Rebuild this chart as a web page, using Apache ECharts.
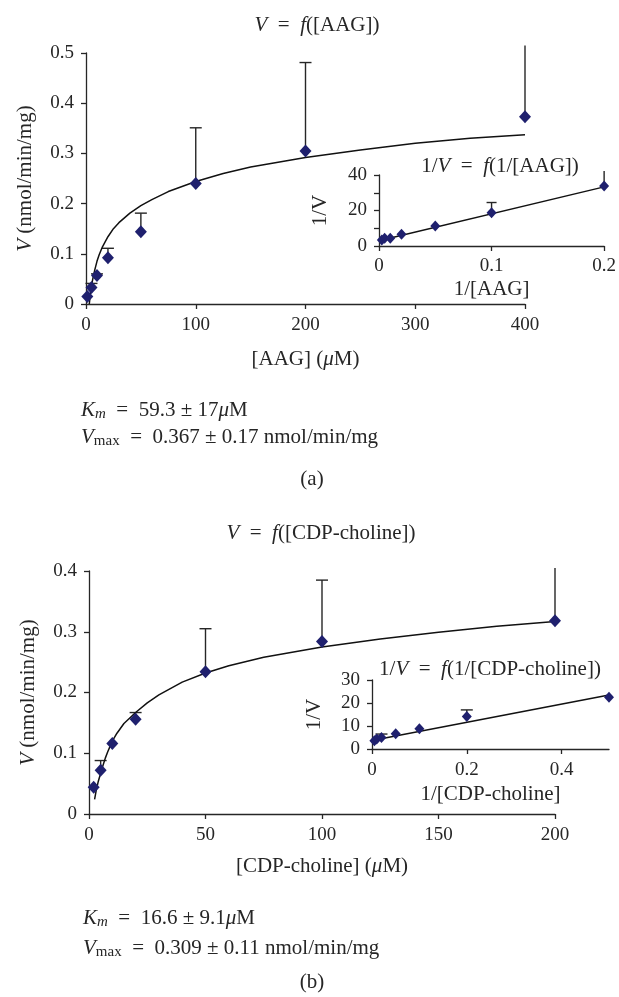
<!DOCTYPE html>
<html>
<head>
<meta charset="utf-8">
<script src="https://cdn.jsdelivr.net/npm/echarts@6/dist/echarts.min.js"></script>
<style>
  html, body { margin: 0; padding: 0; background: #fff; }
  #chart { width: 619px; height: 997px; }
</style>
</head>
<body>
<div id="chart"></div>
<script>
// (a) V = f([AAG])
const aagConc = [1.2, 5, 10, 20, 50, 100, 200, 400];
const aagRate = [0.015, 0.033, 0.057, 0.092, 0.144, 0.240, 0.305, 0.373];
const aagErrTop = [null, 0.041, 0.060, 0.111, 0.181, 0.351, 0.481, 0.515];
const aagFitConc = [3, 4, 5, 6, 8, 10, 12, 15, 20, 25, 30, 40, 50, 60, 75, 100, 125, 150, 200, 250, 300, 350, 400];
const aagFitRate = [0.0, 0.020, 0.035, 0.048, 0.068, 0.085, 0.098, 0.114, 0.134, 0.150, 0.162, 0.181, 0.196, 0.208, 0.224, 0.244, 0.260, 0.273, 0.292, 0.307, 0.320, 0.330, 0.337];
// inset 1/V = f(1/[AAG])
const aagInvConc = [0.0025, 0.005, 0.01, 0.02, 0.05, 0.1, 0.2];
const aagInvRate = [3.4, 4.3, 4.3, 6.6, 11.2, 18.7, 33.8];
const aagInvErrTop = [null, null, null, null, null, 24.5, 42.2];
const aagInvLineX = [0, 0.2];
const aagInvLineY = [3.0, 33.3];

// (b) V = f([CDP-choline])
const cdpConc = [2, 5, 10, 20, 50, 100, 200];
const cdpRate = [0.044, 0.072, 0.116, 0.156, 0.234, 0.284, 0.318];
const cdpErrTop = [null, 0.088, null, 0.167, 0.305, 0.385, 0.405];
const cdpFitConc = [2.4, 3, 4, 5, 6, 7, 8, 10, 12, 15, 20, 25, 30, 40, 50, 60, 75, 100, 125, 150, 175, 200];
const cdpFitRate = [0.024, 0.037, 0.054, 0.067, 0.080, 0.092, 0.102, 0.120, 0.133, 0.149, 0.167, 0.183, 0.196, 0.217, 0.232, 0.244, 0.258, 0.275, 0.288, 0.299, 0.309, 0.317];
// inset 1/V = f(1/[CDP-choline])
const cdpInvConc = [0.005, 0.01, 0.02, 0.05, 0.1, 0.2, 0.5];
const cdpInvRate = [3.6, 4.4, 5.0, 6.6, 8.8, 14.1, 22.5];
const cdpInvErrTop = [null, null, 6.5, null, null, 17.0, null];
const cdpInvLineX = [0, 0.5];
const cdpInvLineY = [3.7, 23.5];

const serif = "'Liberation Serif', 'DejaVu Serif', serif";
const ink = "#262626";
const dotColor = "#1f206e";
const sp = "\u2002"; // wider space around "=" like the typeset figure

const richStyles = {
  i: { fontStyle: "italic", fontFamily: serif, fontSize: 21, fill: ink },
  sub: { fontStyle: "italic", fontFamily: serif, fontSize: 15, lineHeight: 12, verticalAlign: "bottom", fill: ink },
  subr: { fontFamily: serif, fontSize: 15, lineHeight: 12, verticalAlign: "bottom", fill: ink },
};

function pairs(xs, ys) {
  return xs.map((x, i) => [x, ys[i]]);
}

function axis(gridIndex, min, max, interval, extra) {
  return Object.assign(
    {
      type: "value",
      gridIndex: gridIndex,
      min: min,
      max: max,
      interval: interval,
      axisLine: { show: true, onZero: false, lineStyle: { color: ink, width: 1.3 } },
      axisTick: { show: true, length: 5, lineStyle: { color: ink, width: 1.3 } },
      axisLabel: { color: ink, fontFamily: serif, fontSize: 19, margin: 12 },
      splitLine: { show: false },
      nameLocation: "middle",
      nameTextStyle: {
        color: ink,
        fontFamily: serif,
        fontSize: 21,
        rich: { i: { fontStyle: "italic", fontFamily: serif, fontSize: 21, color: ink } },
      },
    },
    extra
  );
}

const insetLabel = { color: ink, fontFamily: serif, fontSize: 19, margin: 12 };

function errorBars(axisIdx, xs, ys, tops, yMax, capW) {
  const data = [];
  xs.forEach((x, i) => {
    if (tops[i] != null) data.push([x, ys[i], tops[i]]);
  });
  return {
    type: "custom",
    xAxisIndex: axisIdx,
    yAxisIndex: axisIdx,
    data: data,
    clip: false,
    silent: true,
    z: 1,
    encode: { x: 0, y: [1, 2] },
    renderItem: function (params, api) {
      const base = api.coord([api.value(0), api.value(1)]);
      const top = api.coord([api.value(0), api.value(2)]);
      const st = { stroke: ink, lineWidth: 1.4 };
      const children = [
        { type: "line", shape: { x1: base[0], y1: base[1], x2: top[0], y2: top[1] }, style: st },
      ];
      if (api.value(2) <= yMax) {
        children.push({
          type: "line",
          shape: { x1: top[0] - capW / 2, y1: top[1], x2: top[0] + capW / 2, y2: top[1] },
          style: st,
        });
      }
      return { type: "group", children: children };
    },
  };
}

function dots(axisIdx, xs, ys, size) {
  return {
    type: "scatter",
    xAxisIndex: axisIdx,
    yAxisIndex: axisIdx,
    data: pairs(xs, ys),
    symbol: "diamond",
    symbolSize: size,
    itemStyle: { color: dotColor, opacity: 1 },
    z: 3,
  };
}

function fitLine(axisIdx, xs, ys) {
  return {
    type: "line",
    xAxisIndex: axisIdx,
    yAxisIndex: axisIdx,
    data: pairs(xs, ys),
    showSymbol: false,
    smooth: false,
    lineStyle: { color: "#111", width: 1.5 },
    z: 2,
  };
}

function label(x, y, text, align) {
  return {
    type: "text",
    x: x,
    y: y,
    style: {
      text: text,
      fill: ink,
      font: "21px " + serif,
      align: align || "center",
      verticalAlign: "middle",
      lineHeight: 24,
      rich: richStyles,
    },
  };
}

const chart = echarts.init(document.getElementById("chart"));
chart.setOption({
  animation: false,
  backgroundColor: "#fff",
  grid: [
    { left: 86, top: 53, width: 439, height: 251 },
    { left: 379, top: 175, width: 226, height: 71 },
    { left: 89, top: 571, width: 466, height: 243 },
    { left: 372, top: 680, width: 237, height: 69 },
  ],
  xAxis: [
    axis(0, 0, 400, 100, { name: "[AAG] ({i|μ}M)", nameGap: 45 }),
    axis(1, 0, 0.2, 0.1, {
      name: "1/[AAG]",
      nameGap: 33,
      axisLabel: Object.assign({}, insetLabel, { margin: 11 }),
    }),
    axis(2, 0, 200, 50, { name: "[CDP-choline] ({i|μ}M)", nameGap: 42 }),
    axis(3, 0, 0.5, 0.2, {
      name: "1/[CDP-choline]",
      nameGap: 35,
      axisLabel: Object.assign({}, insetLabel, { showMaxLabel: false }),
    }),
  ],
  yAxis: [
    axis(0, 0, 0.5, 0.1, { name: "{i|V}" + " (nmol/min/mg)", nameGap: 50 }),
    axis(1, 0, 40, 10, {
      name: "1/V",
      nameGap: 48,
      axisLabel: Object.assign({}, insetLabel, {
        formatter: (v) => (v % 20 === 0 ? String(v) : ""),
      }),
    }),
    axis(2, 0, 0.4, 0.1, { name: "{i|V}" + " (nmol/min/mg)", nameGap: 50 }),
    axis(3, 0, 30, 10, { name: "1/V", nameGap: 47, axisLabel: insetLabel }),
  ],
  series: [
    fitLine(0, aagFitConc, aagFitRate),
    errorBars(0, aagConc, aagRate, aagErrTop, 0.5, 12),
    dots(0, aagConc, aagRate, [12, 13]),
    fitLine(1, aagInvLineX, aagInvLineY),
    errorBars(1, aagInvConc, aagInvRate, aagInvErrTop, 40, 10),
    dots(1, aagInvConc, aagInvRate, [10, 11]),
    fitLine(2, cdpFitConc, cdpFitRate),
    errorBars(2, cdpConc, cdpRate, cdpErrTop, 0.4, 12),
    dots(2, cdpConc, cdpRate, [12, 13]),
    fitLine(3, cdpInvLineX, cdpInvLineY),
    errorBars(3, cdpInvConc, cdpInvRate, cdpInvErrTop, 30, 12),
    dots(3, cdpInvConc, cdpInvRate, [10, 11]),
  ],
  graphic: [
    label(317, 25, "{i|V}" + sp + "=" + sp + "{i|f}([AAG])"),
    label(500, 166, "1/{i|V}" + sp + "=" + sp + "{i|f}(1/[AAG])"),
    label(81, 410, "{i|K}{sub|m}" + sp + "=" + sp + "59.3 ± 17{i|μ}M", "left"),
    label(81, 437, "{i|V}{subr|max}" + sp + "=" + sp + "0.367 ± 0.17 nmol/min/mg", "left"),
    label(312, 479, "(a)"),
    label(321, 533, "{i|V}" + sp + "=" + sp + "{i|f}([CDP-choline])"),
    label(490, 669, "1/{i|V}" + sp + "=" + sp + "{i|f}(1/[CDP-choline])"),
    label(83, 918, "{i|K}{sub|m}" + sp + "=" + sp + "16.6 ± 9.1{i|μ}M", "left"),
    label(83, 948, "{i|V}{subr|max}" + sp + "=" + sp + "0.309 ± 0.11 nmol/min/mg", "left"),
    label(312, 982, "(b)"),
  ],
});
window.addEventListener("resize", () => chart.resize());
</script>
</body>
</html>
